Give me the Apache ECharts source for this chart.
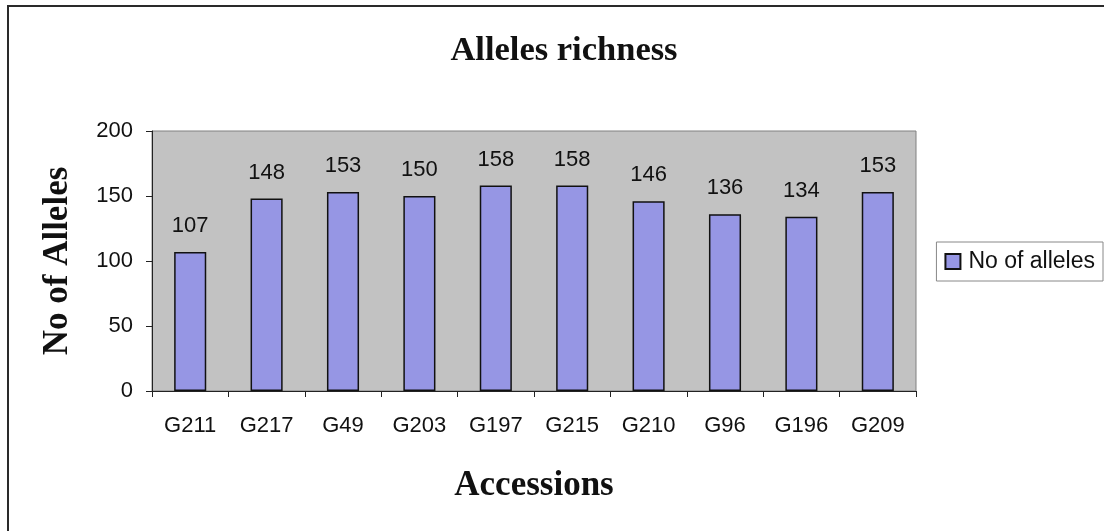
<!DOCTYPE html>
<html>
<head>
<meta charset="utf-8">
<script src="https://cdn.jsdelivr.net/npm/echarts@6/dist/echarts.min.js"></script>
<style>
  html, body { margin: 0; padding: 0; background: #ffffff; }
  #chart { width: 1104px; height: 531px; }
</style>
</head>
<body>
<div id="chart"></div>
<script>
// Accessions and their allele counts
const accessions = ['G211', 'G217', 'G49', 'G203', 'G197', 'G215', 'G210', 'G96', 'G196', 'G209'];
const alleleCounts = [107, 148, 153, 150, 158, 158, 146, 136, 134, 153];
const seriesName = 'No of alleles';

const chart = echarts.init(document.getElementById('chart'));

const serif = '"Liberation Serif", "DejaVu Serif", serif';
const sans = '"Liberation Sans", Arial, sans-serif';

chart.setOption({
  animation: false,
  backgroundColor: '#ffffff',
  graphic: [
    {
      // outer frame around the whole chart
      type: 'rect',
      shape: { x: 8, y: 6, width: 1110, height: 540 },
      style: { fill: 'none', stroke: '#2a2a2a', lineWidth: 2 },
      z: 0
    }
  ],
  title: {
    text: 'Alleles richness',
    left: 559,
    textAlign: 'center',
    top: 29,
    textStyle: { fontFamily: serif, fontSize: 34.5, fontWeight: 'bold', color: '#111' }
  },
  legend: {
    data: [seriesName],
    right: 1,
    top: 242,
    orient: 'vertical',
    padding: [8, 8, 8, 8],
    borderColor: '#888',
    borderWidth: 1,
    itemWidth: 15,
    itemHeight: 15,
    itemGap: 0,
    icon: 'rect',
    textStyle: { fontFamily: sans, fontSize: 23, color: '#111', padding: [0, 0, 0, 3] }
  },
  grid: {
    left: 152,
    top: 131,
    right: 188,
    bottom: 140,
    show: true,
    backgroundColor: '#c2c2c2',
    borderColor: '#808080',
    borderWidth: 1
  },
  xAxis: {
    type: 'category',
    data: accessions,
    name: 'Accessions',
    nameLocation: 'middle',
    nameGap: 77,
    nameTextStyle: { fontFamily: serif, fontSize: 35, fontWeight: 'bold', color: '#111' },
    axisLine: { lineStyle: { color: '#222', width: 1 } },
    axisTick: { show: true, alignWithLabel: false, length: 6, lineStyle: { color: '#222' } },
    axisLabel: { fontFamily: sans, fontSize: 22, color: '#111', margin: 24 }
  },
  yAxis: {
    type: 'value',
    min: 0,
    max: 200,
    interval: 50,
    name: 'No of Alleles',
    nameLocation: 'middle',
    nameGap: 77,
    nameTextStyle: { fontFamily: serif, fontSize: 35, fontWeight: 'bold', color: '#111' },
    axisLine: { show: true, lineStyle: { color: '#222', width: 1 } },
    axisTick: { show: true, length: 6, lineStyle: { color: '#222' } },
    axisLabel: { fontFamily: sans, fontSize: 22, color: '#111', margin: 19 },
    splitLine: { show: false }
  },
  series: [
    {
      name: seriesName,
      type: 'bar',
      data: alleleCounts,
      barWidth: '42%',
      itemStyle: { color: '#9696e4', borderColor: '#111', borderWidth: 1.5 },
      label: {
        show: true,
        position: 'top',
        distance: 15,
        fontFamily: sans,
        fontSize: 22,
        color: '#111'
      }
    }
  ]
});
</script>
</body>
</html>
